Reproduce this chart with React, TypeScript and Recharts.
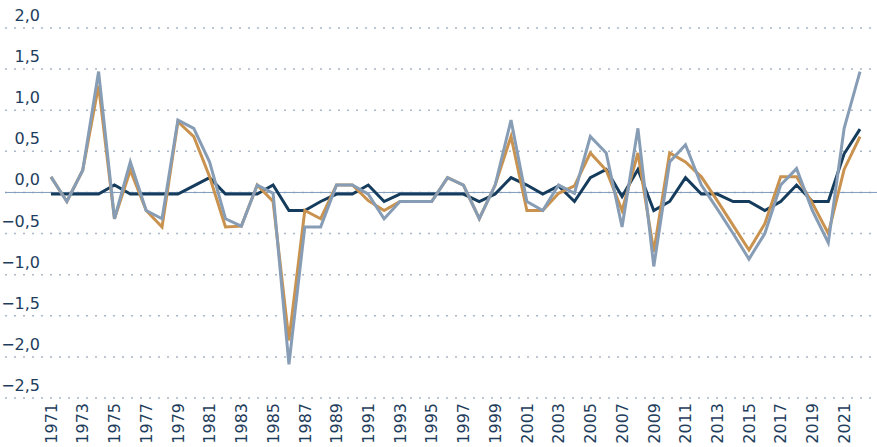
import React from 'react';
import { LineChart, Line, XAxis, YAxis, CartesianGrid, ReferenceLine } from 'recharts';

const years = [
  1971, 1972, 1973, 1974, 1975, 1976, 1977, 1978, 1979, 1980,
  1981, 1982, 1983, 1984, 1985, 1986, 1987, 1988, 1989, 1990,
  1991, 1992, 1993, 1994, 1995, 1996, 1997, 1998, 1999, 2000,
  2001, 2002, 2003, 2004, 2005, 2006, 2007, 2008, 2009, 2010,
  2011, 2012, 2013, 2014, 2015, 2016, 2017, 2018, 2019, 2020,
  2021, 2022,
];

const navyValues = [
  -0.02, -0.02, -0.02, -0.02, 0.09, -0.02, -0.02, -0.02, -0.02, 0.08,
  0.18, -0.02, -0.02, -0.02, 0.09, -0.22, -0.22, -0.11, -0.02, -0.02,
  0.09, -0.11, -0.02, -0.02, -0.02, -0.02, -0.02, -0.11, -0.02, 0.18,
  0.09, -0.02, 0.08, -0.11, 0.18, 0.28, -0.05, 0.28, -0.22, -0.11,
  0.18, -0.02, -0.02, -0.11, -0.11, -0.22, -0.11, 0.09, -0.11, -0.11,
  0.47, 0.77,
];

const tanValues = [
  0.19, -0.11, 0.27, 1.3, -0.32, 0.27, -0.22, -0.42, 0.86, 0.68,
  0.19, -0.42, -0.41, 0.09, -0.11, -1.8, -0.22, -0.32, 0.09, 0.09,
  -0.1, -0.22, -0.11, -0.11, -0.11, 0.18, 0.09, -0.32, 0.09, 0.68,
  -0.22, -0.22, -0.01, 0.08, 0.48, 0.27, -0.22, 0.48, -0.72, 0.48,
  0.37, 0.19, -0.1, -0.4, -0.7, -0.38, 0.19, 0.19, -0.13, -0.5,
  0.28, 0.68,
];

const grayValues = [
  0.19, -0.11, 0.27, 1.47, -0.32, 0.37, -0.22, -0.32, 0.88, 0.78,
  0.37, -0.32, -0.41, 0.09, -0.01, -2.09, -0.42, -0.42, 0.09, 0.09,
  -0.02, -0.32, -0.11, -0.11, -0.11, 0.18, 0.09, -0.32, 0.09, 0.88,
  -0.11, -0.22, 0.09, -0.01, 0.68, 0.48, -0.42, 0.78, -0.9, 0.37,
  0.58, 0.09, -0.2, -0.5, -0.81, -0.5, 0.09, 0.29, -0.22, -0.61,
  0.78, 1.47,
];

const xTicks = [
  1971, 1973, 1975, 1977, 1979, 1981, 1983, 1985, 1987, 1989,
  1991, 1993, 1995, 1997, 1999, 2001, 2003, 2005, 2007, 2009,
  2011, 2013, 2015, 2017, 2019, 2021,
];

const yTicks = [-2.5, -2, -1.5, -1, -0.5, 0, 0.5, 1, 1.5, 2];

const chartData = years.map((year, i) => ({
  year,
  navy: navyValues[i],
  tan: tanValues[i],
  gray: grayValues[i],
}));

const TEXT_COLOR = '#1e3d5c';
const FONT = '"DejaVu Sans", sans-serif';

const formatY = (v: number) => {
  const s = Math.abs(v).toFixed(1).replace('.', ',');
  return v < 0 ? `\u2212${s}` : s;
};

const YTick = ({ y, payload }: any) => (
  <text x={40} y={y - 7} textAnchor="end" fill={TEXT_COLOR} fontSize={16} fontFamily={FONT}>
    {formatY(payload.value)}
  </text>
);

const XTick = ({ x, payload }: any) => (
  <text
    transform={`translate(${x},403) rotate(-90)`}
    textAnchor="end"
    dy="0.36em"
    fill={TEXT_COLOR}
    fontSize={16}
    fontFamily={FONT}
  >
    {payload.value}
  </text>
);

export default function App() {
  return (
    <div style={{ position: 'absolute', left: 0, top: 0 }}>
      <LineChart width={877} height={447} data={chartData} margin={{ top: 28, right: 0, bottom: 0, left: 4 }}>
        <CartesianGrid vertical={false} stroke="#a9b7c7" strokeDasharray="2 7" strokeWidth={1.5} />
        <XAxis
          dataKey="year"
          type="number"
          domain={[1971, 2022]}
          ticks={xTicks}
          interval={0}
          padding={{ left: 46, right: 17 }}
          height={49}
          axisLine={false}
          tickLine={false}
          tick={<XTick />}
        />
        <YAxis
          domain={[-2.5, 2]}
          ticks={yTicks}
          width={1}
          axisLine={false}
          tickLine={false}
          tick={<YTick />}
          interval={0}
        />
        <ReferenceLine y={0} stroke="#7f9bbd" strokeWidth={1} />
        <Line dataKey="navy" stroke="#153c5c" strokeWidth={3} dot={false} isAnimationActive={false} />
        <Line dataKey="tan" stroke="#c9924e" strokeWidth={3} dot={false} isAnimationActive={false} />
        <Line dataKey="gray" stroke="#879db5" strokeWidth={3} dot={false} isAnimationActive={false} />
      </LineChart>
    </div>
  );
}
